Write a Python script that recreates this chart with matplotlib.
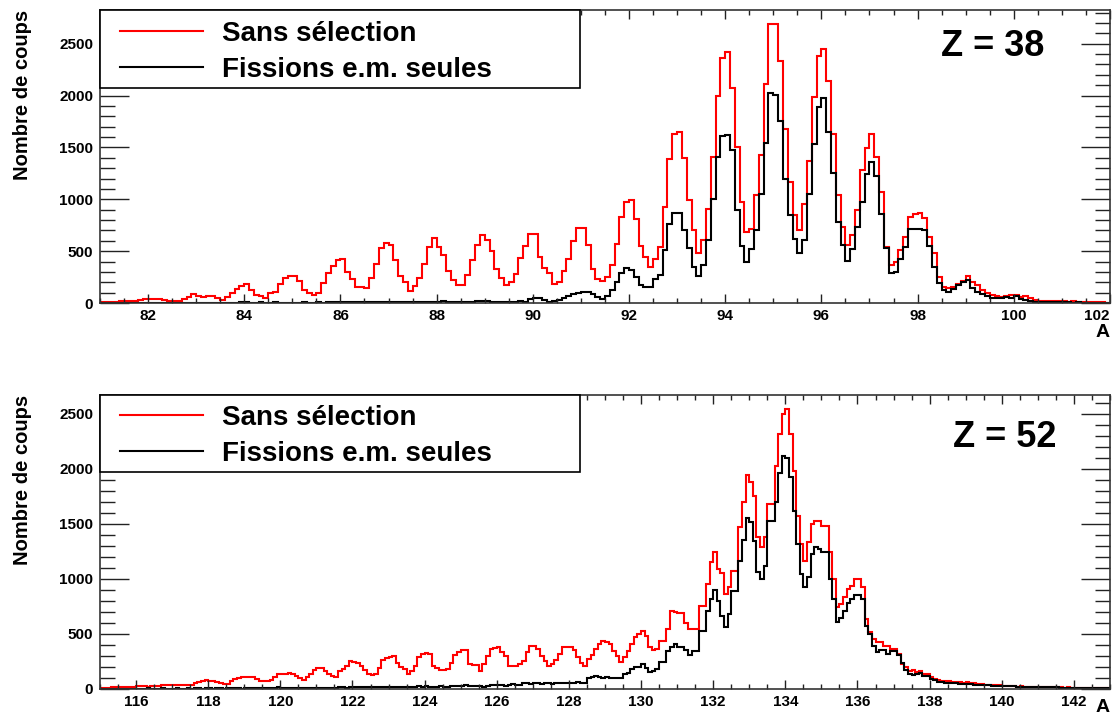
import numpy as np
import matplotlib
matplotlib.use('Agg')
import matplotlib.pyplot as plt
from matplotlib.lines import Line2D
from matplotlib.patches import Rectangle
from matplotlib.ticker import MultipleLocator

plt.rcParams['font.family'] = ['Liberation Sans', 'DejaVu Sans']
plt.rcParams['font.weight'] = 'bold'

labels = ['Sans sélection', 'Fissions e.m. seules']
bin_width = 0.1

# Z = 38, A from 81 to 102, one row per mass unit (10 bins)
z38_range = (81, 102)
z38_all = [
    8, 10, 10, 12, 15, 18, 20, 20, 25, 40,
    40, 38, 42, 28, 20, 20, 22, 35, 55, 85,
    65, 60, 72, 65, 50, 30, 55, 95, 135, 165,
    180, 125, 80, 70, 50, 100, 110, 180, 240, 260,
    260, 215, 130, 100, 80, 100, 190, 290, 360, 410,
    420, 300, 230, 155, 150, 145, 240, 380, 530, 580,
    560, 410, 260, 200, 120, 160, 240, 380, 540, 630,
    540, 460, 310, 220, 170, 170, 270, 410, 560, 660,
    610, 500, 330, 240, 170, 200, 280, 430, 550, 670,
    670, 440, 340, 290, 180, 200, 310, 420, 600, 720,
    720, 560, 330, 230, 210, 253, 365, 573, 830, 974,
    996, 814, 551, 439, 349, 420, 541, 926, 1384, 1631,
    1647, 1400, 996, 702, 487, 612, 910, 1407, 1993, 2358,
    2416, 2073, 1503, 974, 686, 718, 1044, 1429, 2112, 2689,
    2689, 2336, 1679, 1166, 846, 708, 952, 1365, 1984, 2384,
    2448, 2144, 1631, 1038, 734, 557, 653, 894, 1278, 1493,
    1625, 1407, 1071, 542, 365, 397, 510, 638, 830, 862,
    868, 824, 638, 478, 253, 157, 141, 150, 180, 210,
    260, 205, 170, 125, 93, 75, 70, 60, 70, 77,
    77, 60, 67, 51, 29, 19, 22, 18, 20, 15,
    18, 14, 15, 12, 14, 10, 12, 8, 5, 4,
]
z38_em = [
    0, 0, 1, 0, 1, 2, 1, 0, 1, 2,
    1, 2, 1, 3, 2, 1, 2, 3, 2, 3,
    2, 3, 2, 3, 4, 2, 3, 4, 3, 5,
    5, 4, 3, 5, 4, 3, 5, 4, 3, 4,
    3, 4, 5, 4, 3, 6, 4, 5, 6, 5,
    6, 5, 7, 5, 6, 8, 6, 7, 6, 8,
    7, 6, 8, 9, 7, 8, 9, 7, 10, 8,
    9, 15, 8, 10, 9, 11, 10, 12, 15, 20,
    18, 12, 10, 8, 12, 10, 14, 16, 12, 35,
    45, 50, 30, 12, 20, 25, 45, 65, 85, 100,
    110, 105, 90, 60, 40, 67, 125, 205, 285, 333,
    317, 253, 173, 157, 157, 227, 266, 509, 759, 871,
    871, 708, 535, 349, 259, 365, 605, 1006, 1407, 1609,
    1621, 1477, 894, 548, 397, 525, 702, 1054, 1541, 2022,
    2009, 1759, 1198, 846, 615, 487, 612, 1054, 1535, 1894,
    1974, 1647, 1253, 782, 557, 403, 516, 734, 974, 1246,
    1359, 1227, 862, 526, 285, 301, 429, 541, 718, 718,
    718, 702, 545, 349, 189, 125, 109, 132, 173, 200,
    221, 141, 109, 90, 67, 51, 45, 51, 60, 51,
    67, 35, 29, 19, 13, 10, 9, 8, 7, 6,
    5, 6, 4, 5, 4, 3, 3, 2, 2, 1,
]

# Z = 52, A from 115 to 143
z52_range = (115, 143)
z52_all = [
    10, 12, 12, 15, 15, 18, 18, 20, 20, 22,
    24, 25, 24, 22, 25, 28, 30, 32, 35, 38,
    40, 40, 38, 33, 35, 40, 50, 60, 75, 78,
    75, 70, 60, 50, 45, 48, 70, 90, 100, 105,
    105, 108, 105, 90, 75, 70, 72, 80, 105, 140,
    140, 135, 145, 140, 120, 100, 85, 110, 135, 170,
    195, 190, 160, 140, 120, 110, 160, 185, 210, 255,
    245, 240, 210, 170, 135, 130, 140, 195, 265, 280,
    295, 300, 240, 200, 180, 140, 165, 210, 290, 320,
    325, 320, 210, 190, 170, 175, 180, 235, 310, 340,
    355, 350, 225, 220, 220, 160, 225, 300, 365, 370,
    380, 340, 300, 210, 205, 205, 230, 255, 335, 395,
    395, 365, 300, 250, 210, 230, 265, 320, 380, 385,
    380, 350, 290, 240, 205, 275, 305, 360, 410, 440,
    424, 409, 348, 303, 242, 288, 342, 409, 470, 500,
    530, 485, 379, 355, 364, 439, 439, 545, 706, 697,
    691, 691, 597, 545, 545, 545, 758, 758, 955, 1151,
    1242, 1091, 1051, 864, 924, 1076, 1076, 1470, 1697, 1948,
    1879, 1757, 1379, 1288, 1379, 1682, 1682, 2030, 2318, 2500,
    2545, 2318, 1985, 1576, 1318, 1167, 1333, 1500, 1530, 1530,
    1485, 1485, 1242, 1000, 742, 773, 833, 909, 940, 1000,
    1000, 930, 640, 515, 455, 424, 424, 394, 394, 364,
    364, 318, 227, 197, 167, 173, 152, 167, 136, 136,
    106, 90, 80, 76, 70, 72, 65, 62, 60, 58,
    60, 55, 52, 48, 45, 40, 38, 35, 33, 32,
    30, 28, 30, 25, 22, 24, 20, 22, 18, 20,
    20, 18, 16, 18, 15, 14, 16, 12, 14, 12,
    12, 10, 12, 10, 8, 10, 8, 8, 6, 6,
]
z52_em = [
    2, 3, 2, 3, 4, 3, 2, 4, 3, 4,
    3, 4, 3, 5, 4, 3, 4, 5, 4, 3,
    4, 5, 4, 3, 5, 4, 6, 5, 4, 5,
    5, 4, 6, 5, 4, 6, 5, 6, 5, 4,
    6, 5, 6, 7, 5, 6, 7, 6, 8, 15,
    12, 8, 6, 5, 8, 6, 7, 8, 10, 12,
    10, 9, 12, 10, 8, 12, 14, 16, 12, 14,
    18, 16, 14, 15, 18, 14, 20, 16, 15, 18,
    20, 18, 15, 22, 18, 20, 16, 22, 24, 20,
    25, 22, 20, 18, 25, 22, 20, 26, 28, 24,
    30, 35, 28, 26, 30, 25, 22, 30, 38, 32,
    40, 38, 30, 35, 45, 40, 35, 50, 55, 42,
    55, 50, 45, 58, 52, 48, 50, 55, 58, 55,
    58, 55, 60, 58, 52, 100, 110, 115, 105, 100,
    106, 103, 97, 97, 97, 136, 142, 182, 197, 197,
    227, 191, 152, 160, 182, 242, 242, 348, 379, 409,
    385, 385, 355, 312, 342, 342, 530, 530, 712, 818,
    900, 803, 667, 561, 682, 894, 894, 1167, 1354, 1554,
    1515, 1348, 1060, 1000, 1121, 1530, 1530, 1697, 1960, 2121,
    2100, 1924, 1621, 1318, 1045, 930, 1015, 1227, 1288, 1273,
    1242, 1242, 1000, 818, 606, 645, 712, 779, 820, 857,
    857, 818, 576, 500, 394, 333, 355, 355, 318, 342,
    342, 312, 233, 173, 136, 130, 136, 142, 121, 121,
    91, 80, 67, 62, 58, 55, 52, 50, 48, 46,
    45, 42, 40, 38, 36, 34, 32, 31, 30, 30,
    28, 26, 25, 24, 22, 21, 20, 20, 19, 18,
    18, 17, 16, 15, 14, 14, 13, 12, 12, 11,
    10, 10, 9, 9, 8, 8, 7, 7, 6, 6,
]

fig = plt.figure(figsize=(11.17, 7.15), dpi=100)
ax1 = fig.add_axes([0.0895, 0.5762, 0.9042, 0.4098])
ax2 = fig.add_axes([0.0895, 0.0364, 0.9042, 0.4112])

panels = [
    (ax1, z38_range, z38_all, z38_em, 'Z = 38', 2825, (0.884, 0.874), -0.072, 0.733, 0.962),
    (ax2, z52_range, z52_all, z52_em, 'Z = 52', 2672, (0.896, 0.857), -0.035, 0.738, 0.966),
]

for ax, (lo, hi), all_vals, em_vals, ztext, ymax, zpos, apos, leg_y0, leg_top in panels:
    edges = np.round(np.arange(lo, hi + bin_width / 2, bin_width), 2)
    ax.stairs(all_vals, edges, color='#ff0000', lw=1.5)
    ax.stairs(em_vals, edges, color='black', lw=1.5)
    ax.set_xlim(lo, hi)
    ax.set_ylim(0, ymax)

    ax.set_xticks(np.arange(lo + 1, hi + 0.5, 2))
    ax.xaxis.set_minor_locator(MultipleLocator(0.5))
    ax.yaxis.set_major_locator(MultipleLocator(500))
    ax.yaxis.set_minor_locator(MultipleLocator(100))
    ax.tick_params(which='both', direction='in', top=True, right=True,
                   labelsize=11, color='#222222')
    ax.tick_params(axis='y', which='major', length=21, width=1, pad=5)
    ax.tick_params(axis='y', which='minor', length=10.5, width=1)
    ax.tick_params(axis='x', which='major', length=6.5, width=1, pad=4)
    ax.tick_params(axis='x', which='minor', length=3.5, width=1)
    ax.set_xticklabels([f'{int(t)}' for t in ax.get_xticks()])
    last = ax.get_xticklabels()[-1]
    if ax.get_xticks()[-1] == hi:
        last.set_horizontalalignment('right')
    for sp in ax.spines.values():
        sp.set_linewidth(1.2)
        sp.set_color('#333333')

    ax.set_ylabel('Nombre de coups', fontsize=14.5, fontweight='bold', loc='top')
    ax.yaxis.set_label_coords(-0.067, 1.0)
    ax.set_xlabel('A', fontsize=14, fontweight='bold', loc='right')
    ax.xaxis.set_label_coords(1.0, apos)

    ax.text(zpos[0], zpos[1], ztext, transform=ax.transAxes, fontsize=26,
            fontweight='bold', ha='center', va='center')

    # legend frame as in the ROOT canvas, then the entries inside it
    ax.add_patch(Rectangle((0, leg_y0), 0.475, 1 - leg_y0, transform=ax.transAxes,
                           facecolor='white', edgecolor='black', lw=1.2, zorder=4,
                           clip_on=False))
    handles = [Line2D([], [], color='#ff0000', lw=1.5),
               Line2D([], [], color='black', lw=1.5)]
    leg = ax.legend(handles, labels, loc='upper left', bbox_to_anchor=(0.0198, leg_top),
                    borderaxespad=0, borderpad=0, frameon=False, fontsize=20,
                    handlelength=3, handletextpad=0.68, labelspacing=0.36)
    leg.set_zorder(5)

fig.savefig('out.png', dpi=100)
